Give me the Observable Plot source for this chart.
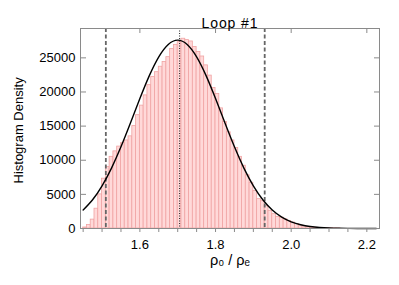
<!DOCTYPE html>
<html><head><meta charset="utf-8">
<script src="https://cdn.jsdelivr.net/npm/d3@7"></script>
<script src="https://cdn.jsdelivr.net/npm/@observablehq/plot@0.6"></script>
<style>body{margin:0;background:#fff} svg{display:block} .ttl text{letter-spacing:0.9px}</style>
</head><body><div id="chart"></div>
<script>
const binLeft = [1.45,1.46,1.47,1.48,1.49,1.50,1.51,1.52,1.53,1.54,1.55,1.56,1.57,1.58,1.59,
  1.60,1.61,1.62,1.63,1.64,1.65,1.66,1.67,1.68,1.69,1.70,1.71,1.72,1.73,1.74,1.75,1.76,1.77,1.78,1.79,
  1.80,1.81,1.82,1.83,1.84,1.85,1.86,1.87,1.88,1.89,1.90,1.91,1.92,1.93,1.94,1.95,1.96,1.97,1.98,1.99,
  2.00,2.01,2.02,2.03,2.04,2.05,2.06,2.07,2.08,2.09,2.10,2.11,2.12];
const binCount = [150,500,1300,2900,5000,7300,9000,10500,11300,12000,12500,12900,13500,15000,16600,
  18000,19500,21000,22200,22900,23700,24400,25100,26300,26900,27300,27800,27600,27400,26600,25850,25200,23900,22400,20600,
  19700,17600,15600,14100,12900,11800,10500,9200,7800,6700,5500,4300,4000,3300,2600,2100,1700,1600,1350,1100,
  880,650,420,300,220,160,110,80,50,35,20,12,8];
const binWidth = 0.01;
const fitX = [1.450,1.475,1.500,1.525,1.550,1.575,1.600,1.625,1.650,1.675,1.700,1.725,1.750,1.775,1.800,1.825,
  1.850,1.875,1.900,1.925,1.950,1.975,2.000,2.025,2.050,2.075,2.100,2.125,2.150,2.175,2.200,2.225];
const fitY = [2705,4206,6243,8846,11962,15445,19033,22395,25152,26965,27600,26965,25152,22395,19033,15445,
  11962,8846,6243,4206,2705,1661,974,545,291,148,72,33,14,6,2,1];
const dashedX = [1.51, 1.93];
const peakX = [1.705];
const xTicks = [1.6, 1.8, 2.0, 2.2];
const xMinor = [1.45,1.5,1.55,1.65,1.7,1.75,1.85,1.9,1.95,2.05,2.1,2.15];
const yTicks = [0, 5000, 10000, 15000, 20000, 25000];
const title = "Loop #1";
const xLabel = "ρ₀ / ρₑ";
const yLabel = "Histogram Density";

const bins = binLeft.map((x, i) => ({x1: x, x2: x + binWidth, y: binCount[i]}));
const fit = fitX.map((x, i) => ({x, y: fitY[i]}));
const axisGray = "#8a8a8a";

const chart = Plot.plot({
  width: 399, height: 285,
  marginLeft: 80, marginRight: 20, marginTop: 28, marginBottom: 57,
  style: {fontFamily: "'Liberation Sans', Arial, sans-serif", fontSize: "13px", color: "#000", background: "#fff"},
  x: {domain: [1.443, 2.2335]},
  y: {domain: [0, 29300]},
  marks: [
    Plot.rectY(bins, {x1: "x1", x2: "x2", y: "y", fill: "#ffd9d9", stroke: "#f0a3a3", strokeWidth: 0.8}),
    Plot.ruleX(dashedX, {stroke: "#666", strokeWidth: 1.8, strokeDasharray: "4,2.5"}),
    Plot.ruleX(peakX, {stroke: "#222", strokeWidth: 1, strokeDasharray: "1,1.5"}),
    Plot.line(fit, {x: "x", y: "y", stroke: "#000", strokeWidth: 1.4, curve: "natural"}),
    Plot.frame({stroke: axisGray}),
    Plot.axisX(xTicks, {anchor: "bottom", tickSize: 4, tickPadding: 7, tickFormat: d => d.toFixed(1), stroke: axisGray,
      label: null, fontSize: 13}),
    Plot.axisX(xMinor, {anchor: "bottom", tickSize: 4, text: null, stroke: axisGray, label: null}),
    Plot.axisX(xTicks, {anchor: "top", tickSize: -4, text: null, stroke: axisGray, label: null}),
    Plot.axisY(yTicks, {anchor: "left", tickSize: -6, text: null, stroke: axisGray, label: null}),
    Plot.axisY(yTicks, {anchor: "left", tickSize: 0, tickPadding: 5, tickFormat: d => String(d), label: null, fontSize: 13}),
    Plot.axisY(yTicks, {anchor: "right", tickSize: -6, text: null, stroke: axisGray, label: null}),
    Plot.text([title], {frameAnchor: "top", dy: -10, text: d => d, fontSize: 14, className: "ttl"}),
    Plot.text([xLabel], {frameAnchor: "bottom", dy: 36, text: d => d, fontSize: 14.5}),
    Plot.text([yLabel], {frameAnchor: "bottom-left", dx: -58, dy: -45, rotate: -90, textAnchor: "start", text: d => d, fontSize: 13})
  ]
});
document.getElementById("chart").appendChild(chart);
</script>
</body></html>
